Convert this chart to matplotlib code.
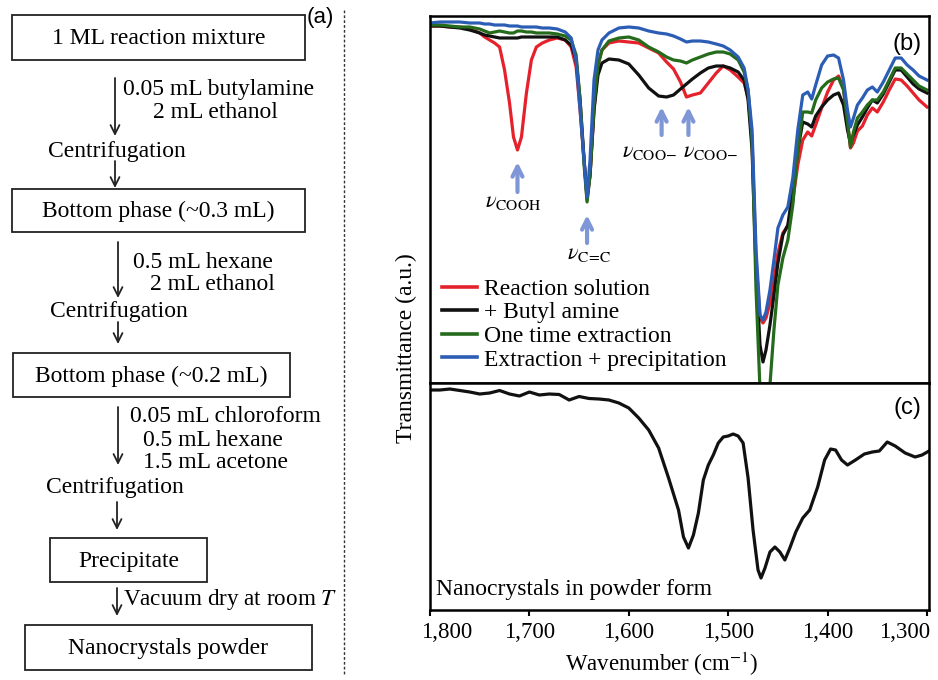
import matplotlib
matplotlib.use("Agg")
import matplotlib.pyplot as plt
from matplotlib.patches import Rectangle
from matplotlib.ticker import FuncFormatter
from matplotlib.transforms import ScaledTranslation

plt.rcParams['font.family'] = ['Liberation Serif', 'DejaVu Serif']
plt.rcParams['mathtext.fontset'] = 'stix'

# ---- panel (b) spectra: read as pixel rows of the reference, 383 = panel bottom ----
wn_b = [1800, 1790, 1780, 1770, 1760, 1750, 1745, 1740, 1735, 1730, 1725, 1720, 1716, 1712,
        1708, 1703, 1698, 1693, 1687, 1680, 1672, 1664, 1658, 1653, 1649, 1645, 1642, 1639,
        1635, 1631, 1627, 1620, 1610, 1600, 1590, 1580, 1570, 1562, 1555, 1548, 1542, 1536,
        1528, 1520, 1512, 1505, 1498, 1490, 1484, 1480, 1476, 1472, 1468, 1465, 1462, 1458,
        1454, 1450, 1445, 1440, 1435, 1430, 1425, 1420, 1416, 1412, 1406, 1400, 1394, 1389,
        1384, 1380, 1377, 1374, 1370, 1365, 1360, 1355, 1350, 1344, 1338, 1332, 1326, 1320,
        1314, 1308, 1300]

red_row = [26, 26, 27, 27, 29, 33, 37, 40, 43, 47, 70, 103, 137, 150,
           137, 93, 60, 47, 43, 40, 38, 40, 47, 67, 110, 160, 200, 175,
           110, 65, 50, 43, 41, 42, 43, 48, 53, 62, 69, 82, 97, 95,
           93, 83, 73, 66, 70, 77, 83, 97, 140, 260, 318, 323, 318, 303,
           280, 253, 233, 226, 200, 165, 140, 132, 136, 125, 108, 92, 80, 76,
           88, 122, 148, 143, 131, 126, 115, 108, 112, 102, 90, 79, 80, 86,
           93, 100, 107]
black_row = [26, 26, 27, 28, 30, 33, 35, 36, 37, 38, 38, 38, 38, 38,
             37, 37, 37, 37, 37, 37, 37, 40, 45, 60, 100, 160, 197, 175,
             110, 75, 63, 59, 60, 64, 75, 88, 96, 97, 95, 89, 84, 79,
             73, 68, 66, 66, 68, 72, 80, 100, 150, 270, 345, 362, 350, 325,
             295, 263, 235, 225, 190, 150, 122, 124, 127, 116, 107, 100, 95, 93,
             105, 130, 143, 135, 125, 117, 108, 100, 103, 94, 82, 70, 70, 77,
             84, 89, 93]
green_row = [25, 25, 26, 27, 27, 29, 31, 33, 32, 31, 32, 33, 33, 31,
             31, 32, 32, 33, 33, 33, 34, 36, 40, 55, 100, 165, 202, 175,
             105, 65, 50, 41, 38, 37, 40, 47, 52, 57, 60, 61, 63, 60,
             57, 54, 52, 52, 54, 60, 72, 90, 140, 290, 390, 430, 425, 385,
             330, 285, 258, 240, 205, 150, 112, 112, 113, 100, 88, 82, 79, 78,
             90, 122, 147, 132, 118, 112, 105, 100, 100, 92, 80, 68, 68, 74,
             80, 86, 90]
blue_row = [23, 22, 22, 22, 23, 23, 24, 24, 25, 25, 25, 26, 26, 26,
            27, 27, 27, 27, 28, 28, 29, 32, 38, 60, 110, 160, 197, 160,
            80, 50, 40, 33, 28, 27, 28, 31, 33, 34, 36, 39, 42, 41,
            41, 42, 44, 46, 50, 57, 68, 90, 130, 250, 315, 320, 312, 290,
            260, 228, 215, 207, 178, 130, 95, 92, 99, 85, 65, 56, 55, 58,
            80, 110, 127, 118, 105, 98, 90, 87, 92, 82, 70, 58, 58, 65,
            70, 76, 80]

labels_b = ["Reaction solution", "+ Butyl amine", "One time extraction",
            "Extraction + precipitation"]
colors_b = ["#e5212b", "#111111", "#246b1c", "#2c5db5"]

# ---- panel (c) powder spectrum: depth below the panel top ----
wn_c = [1800, 1790, 1780, 1770, 1760, 1750, 1740, 1730, 1720, 1710, 1700, 1690, 1680, 1670,
        1660, 1650, 1640, 1630, 1620, 1610, 1600, 1590, 1580, 1570, 1560, 1550, 1545, 1540,
        1535, 1530, 1525, 1520, 1515, 1510, 1505, 1500, 1495, 1490, 1485, 1480, 1475, 1470,
        1467, 1463, 1458, 1453, 1448, 1443, 1438, 1432, 1425, 1418, 1410, 1403, 1397, 1392,
        1386, 1380, 1372, 1363, 1355, 1348, 1340, 1332, 1322, 1312, 1305, 1298]
powder_depth = [7, 7, 6, 7.5, 9, 11, 10, 7.5, 11, 13, 9, 12, 11, 11.5,
                17, 13.5, 15.5, 16, 17, 20, 25, 35, 47, 65, 95, 127, 154, 165,
                152, 130, 97, 82, 72, 60, 54, 53, 51, 53, 60, 95, 147, 187,
                195, 185, 169, 164, 169, 177, 165, 149, 135, 127, 104, 77, 66, 67,
                77, 82, 77, 71, 69, 68, 59, 63, 70, 74, 72, 68]

panel_b_bottom = 383
panel_b_height = 367
panel_c_height = 227
trans_b = {lab: [panel_b_bottom - r for r in rows]
           for lab, rows in zip(labels_b, [red_row, black_row, green_row, blue_row])}
trans_c = [panel_c_height - d for d in powder_depth]

xticks = [1800, 1700, 1600, 1500, 1400, 1300]

W, H = 938, 680
fig = plt.figure(figsize=(W / 100, H / 100), dpi=100)

# ---------------- flowchart (a) ----------------
axf = fig.add_axes([0, 0, 1, 1])
axf.set_xlim(0, W)
axf.set_ylim(H, 0)
axf.axis('off')

fs = 17


def box(x0, y0, x1, y1, text):
    axf.add_patch(Rectangle((x0, y0), x1 - x0, y1 - y0, fill=False, lw=1.3, ec='#222222'))
    axf.text((x0 + x1) / 2, (y0 + y1) / 2 + 1, text, ha='center', va='center', fontsize=fs)


def arrow(x, y0, y1):
    axf.annotate('', xy=(x, y1), xytext=(x, y0),
                 arrowprops=dict(arrowstyle='->', lw=1.3, color='#222222',
                                 mutation_scale=16, shrinkA=0, shrinkB=0))


box(12, 15, 305, 60, "1 ML reaction mixture")
arrow(115, 78, 136)
axf.text(123, 90, "0.05 mL butylamine", fontsize=fs, va='center')
axf.text(153, 112, "2 mL ethanol", fontsize=fs, va='center')
axf.text(48, 152, "Centrifugation", fontsize=fs, va='center')
arrow(115, 161, 188)

box(12, 189, 305, 232, "Bottom phase (~0.3 mL)")
arrow(118, 242, 298)
axf.text(133, 263, "0.5 mL hexane", fontsize=fs, va='center')
axf.text(150, 285, "2 mL ethanol", fontsize=fs, va='center')
axf.text(50, 311, "Centrifugation", fontsize=fs, va='center')
arrow(118, 322, 344)

box(13, 353, 290, 397, "Bottom phase (~0.2 mL)")
arrow(118, 407, 465)
axf.text(130, 416, "0.05 mL chloroform", fontsize=fs, va='center')
axf.text(143, 440, "0.5 mL hexane", fontsize=fs, va='center')
axf.text(143, 462, "1.5 mL acetone", fontsize=fs, va='center')
axf.text(46, 488, "Centrifugation", fontsize=fs, va='center')
arrow(117, 502, 530)

box(50, 538, 207, 582, "Precipitate")
arrow(117, 588, 616)
axf.text(123, 600, "Vacuum dry at room $T$", fontsize=16.7, va='center')

box(25, 625, 312, 670, "Nanocrystals powder")

axf.text(307, 18, "(a)", fontsize=16, va='center', family=['Liberation Sans', 'DejaVu Sans'])
axf.plot([344, 344], [10, 675], ls=(0, (2, 1.5)), lw=1.0, color='#333333')

# ---------------- spectra (b) and (c) ----------------
left, right = 430 / W, 929 / W
top_b, mid, bot_c = 1 - 16 / H, 1 - 383 / H, 1 - 610 / H
axb = fig.add_axes([left, mid, right - left, top_b - mid])
axc = fig.add_axes([left, bot_c, right - left, mid - bot_c])

for lab, col in zip(labels_b, colors_b):
    axb.plot(wn_b, trans_b[lab], color=col, lw=2.3, label=lab)
axb.set_xlim(1800, 1298)
axb.set_ylim(0, panel_b_height)
axb.set_xticks([])
axb.set_yticks([])
leg = axb.legend(loc='lower left', bbox_to_anchor=(0.0, 0.0), frameon=False, fontsize=17,
                 handlelength=1.45, handletextpad=0.3, labelspacing=0.09, borderaxespad=0.12)
for h in leg.get_lines():
    h.set_linewidth(2.6)
axb.text(0.985, 0.955, "(b)", transform=axb.transAxes, ha='right', va='top', fontsize=17,
         family=['Liberation Sans', 'DejaVu Sans'])

arrow_col = '#7f97d6'
notes = [
    (1712, 191, 221, 1745, 180, r'$\nu_{\mathrm{COOH}}$'),
    (1642, 140, 168, 1662, 128, r'$\nu_{\mathrm{C\!=\!C}}$'),
    (1567, 248, 276, 1607, 231, r'$\nu_{\mathrm{COO{-}}}$'),
    (1540, 248, 276, 1545, 231, r'$\nu_{\mathrm{COO{-}}}$'),
]
for wx, y0, y1, tx, ty, txt in notes:
    axb.annotate('', xy=(wx, y1), xytext=(wx, y0),
                 arrowprops=dict(arrowstyle='->', lw=3, color=arrow_col,
                                 mutation_scale=18, shrinkA=0, shrinkB=0))
    axb.text(tx, ty, txt, fontsize=16, ha='left', va='center')

axc.plot(wn_c, trans_c, color='#111111', lw=2.3)
axc.set_xlim(1800, 1298)
axc.set_ylim(0, panel_c_height)
axc.set_yticks([])
axc.set_xticks(xticks)
axc.xaxis.set_major_formatter(FuncFormatter(lambda v, p: f"{v:,.0f}"))
axc.tick_params(axis='x', direction='out', length=4, width=1.5, labelsize=16.5, pad=5)
tlabels = axc.get_xticklabels()
tlabels[0].set_transform(tlabels[0].get_transform() + ScaledTranslation(0.17, 0, fig.dpi_scale_trans))
tlabels[-1].set_transform(tlabels[-1].get_transform() + ScaledTranslation(-0.22, 0, fig.dpi_scale_trans))
axc.text(0.012, 0.09, "Nanocrystals in powder form", transform=axc.transAxes,
         ha='left', va='center', fontsize=17)
axc.text(0.985, 0.94, "(c)", transform=axc.transAxes, ha='right', va='top', fontsize=17,
         family=['Liberation Sans', 'DejaVu Sans'])

for ax in (axb, axc):
    for s in ax.spines.values():
        s.set_linewidth(1.8)

fig.text(662 / W, 1 - 664 / H, "Wavenumber (cm$^{-1}$)", ha='center', va='center', fontsize=16.5)
fig.text(406 / W, 1 - 348 / H, "Transmittance (a.u.)", ha='center', va='center',
         rotation=90, fontsize=17)

fig.savefig("out.png", dpi=100)
